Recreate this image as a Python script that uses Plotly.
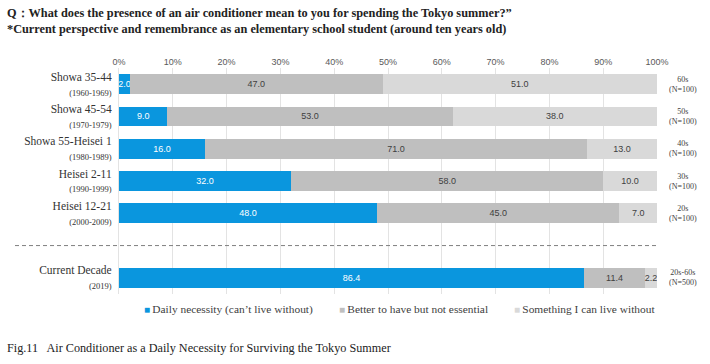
import plotly.graph_objects as go

categories = ["Showa 35-44", "Showa 45-54", "Showa 55-Heisei 1", "Heisei 2-11", "Heisei 12-21", "Current Decade"]
years = ["(1960-1969)", "(1970-1979)", "(1980-1989)", "(1990-1999)", "(2000-2009)", "(2019)"]
right_labels = ["60s", "50s", "40s", "30s", "20s", "20s-60s"]
n_labels = ["(N=100)", "(N=100)", "(N=100)", "(N=100)", "(N=100)", "(N=500)"]
daily = [2.0, 9.0, 16.0, 32.0, 48.0, 86.4]
better = [47.0, 53.0, 71.0, 58.0, 45.0, 11.4]
without = [51.0, 38.0, 13.0, 10.0, 7.0, 2.2]
series_names = ["Daily necessity (can\u2019t live without)", "Better to have but not essential", "Something I can live without"]
colors = ["#0A96DE", "#BFBFBF", "#D9D9D9"]
text_colors = ["white", "#404040", "#404040"]
xticks = [0, 10, 20, 30, 40, 50, 60, 70, 80, 90, 100]

SERIF = "Liberation Serif"
SANS = "Liberation Sans"

ylabels = [f"{c}<br><span style='font-size:8.5px'>{y}</span>" for c, y in zip(categories, years)]
spacer = " "
cat_order = ylabels[:5] + [spacer] + ylabels[5:]

L, R, T, B = 119, 53, 68, 70
PW = 710 - L - R
PH = 364 - T - B

fig = go.Figure()
for name, vals, col, tcol in zip(series_names, [daily, better, without], colors, text_colors):
    fig.add_trace(go.Bar(
        y=ylabels, x=vals, name=name, orientation="h",
        marker=dict(color=col, line=dict(width=0)),
        text=[f"{v:.1f}" for v in vals], textposition="inside",
        insidetextanchor="middle", textangle=0, constraintext="none",
        textfont=dict(family=SANS, size=9, color=tcol),
        hoverinfo="skip", showlegend=False,
    ))

# right-side annotations
for lab, rl, nl in zip(ylabels, right_labels, n_labels):
    fig.add_annotation(x=(683 - L) / PW, y=lab, xref="paper", yref="y",
                       text=f"{rl}<br>{nl}", showarrow=False,
                       font=dict(family=SERIF, size=8, color="#404040"),
                       xanchor="center", yanchor="middle")

# dashed separator
sp_idx = cat_order.index(spacer)
fig.add_shape(type="line", xref="paper", yref="y", x0=(15 - L) / PW, x1=1.0,
              y0=sp_idx, y1=sp_idx, line=dict(color="#7F7F7F", width=1, dash="4px,3px"))

# legend (manual, compact square markers)
legend_x = [142, 337, 512]
for name, col, lx in zip(series_names, colors, legend_x):
    fig.add_annotation(xref="paper", yref="paper", x=(lx - L) / PW, y=-(309 - (364 - B)) / PH,
                       xanchor="left", yanchor="middle", showarrow=False,
                       text=f"<span style='color:{col};font-size:10px'>\u25a0</span>\u2009{name}",
                       font=dict(family=SERIF, size=11.4, color="#404040"))

fig.add_annotation(xref="paper", yref="paper", x=(5 - L) / PW, y=1 + (T - 4) / PH,
                   xanchor="left", yanchor="top",
                   text="<b>Q\uff1aWhat does the presence of an air conditioner mean to you for spending the Tokyo summer?\u201d</b>"
                        "<br><b>*Current perspective and remembrance as an elementary school student (around ten years old)</b>",
                   showarrow=False, align="left", font=dict(family=SERIF, size=12.3, color="#222"))

fig.add_annotation(xref="paper", yref="paper", x=(5 - L) / PW, y=-(348 - (364 - B)) / PH,
                   xanchor="left", yanchor="middle", showarrow=False,
                   text="Fig.11\u2002 Air Conditioner as a Daily Necessity for Surviving the Tokyo Summer",
                   font=dict(family=SERIF, size=12.2, color="#222"))

fig.update_layout(
    width=710, height=364,
    margin=dict(l=L, r=R, t=T, b=B, autoexpand=False),
    barmode="stack", bargap=0.385,
    paper_bgcolor="white", plot_bgcolor="white",
    showlegend=False,
    xaxis=dict(range=[0, 100], side="top", tickvals=xticks, ticktext=[f"{t}%" for t in xticks],
               showgrid=True, gridcolor="#E3E3E3", gridwidth=1, zeroline=False, automargin=False,
               tickfont=dict(family=SANS, size=9, color="#595959"), ticks="", fixedrange=True),
    yaxis=dict(categoryorder="array", categoryarray=cat_order, autorange="reversed", automargin=False,
               type="category", tickfont=dict(family=SERIF, size=11.5, color="#333"),
               ticks="", showline=True, linecolor="#E3E3E3", ticklabelstandoff=4, fixedrange=True),
)
fig.write_html("out.html", config={"displayModeBar": False},
               post_script="document.body.style.margin='0';")
